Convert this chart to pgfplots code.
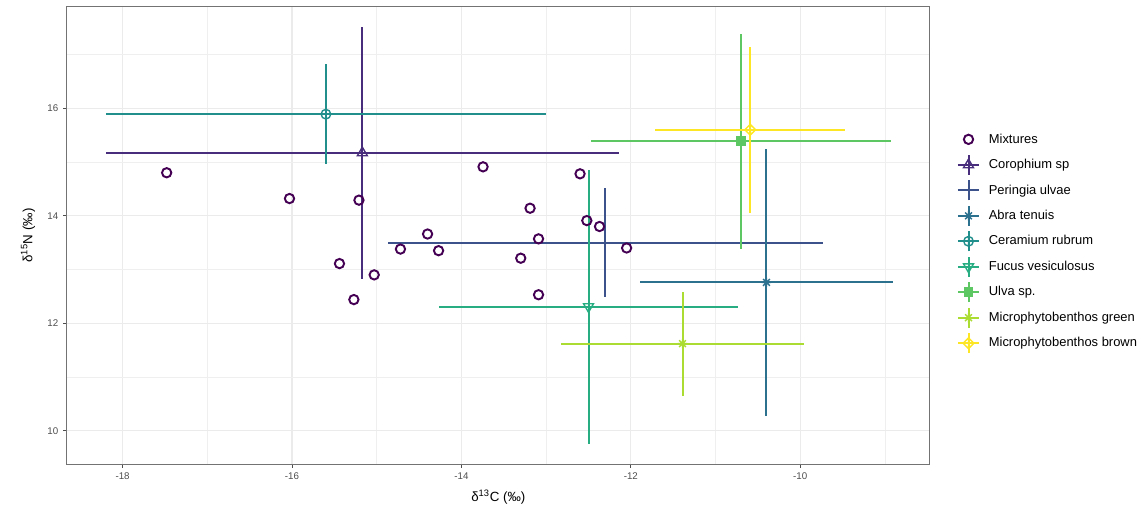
\documentclass[border=0pt]{standalone}
\usepackage{pgfplots}
\pgfplotsset{compat=1.18}
\usepackage{fontspec}
\setmainfont{Liberation Sans}
\usetikzlibrary{plotmarks}
\definecolor{v1}{HTML}{440154}
\definecolor{v2}{HTML}{472D7B}
\definecolor{v3}{HTML}{3B528B}
\definecolor{v4}{HTML}{2C728E}
\definecolor{v5}{HTML}{21908C}
\definecolor{v6}{HTML}{27AD81}
\definecolor{v7}{HTML}{5DC863}
\definecolor{v8}{HTML}{AADC32}
\definecolor{v9}{HTML}{FDE725}
\definecolor{gridc}{HTML}{EBEBEB}
\definecolor{tickc}{HTML}{4D4D4D}
\pgfdeclareplotmark{ast8}{%
  \pgfpathmoveto{\pgfqpoint{-\pgfplotmarksize}{0pt}}\pgfpathlineto{\pgfqpoint{\pgfplotmarksize}{0pt}}%
  \pgfpathmoveto{\pgfqpoint{0pt}{-\pgfplotmarksize}}\pgfpathlineto{\pgfqpoint{0pt}{\pgfplotmarksize}}%
  \pgfpathmoveto{\pgfqpoint{-.7071\pgfplotmarksize}{-.7071\pgfplotmarksize}}\pgfpathlineto{\pgfqpoint{.7071\pgfplotmarksize}{.7071\pgfplotmarksize}}%
  \pgfpathmoveto{\pgfqpoint{-.7071\pgfplotmarksize}{.7071\pgfplotmarksize}}\pgfpathlineto{\pgfqpoint{.7071\pgfplotmarksize}{-.7071\pgfplotmarksize}}%
  \pgfusepathqstroke}
\pgfdeclareplotmark{diamondplus}{%
  \pgfpathmoveto{\pgfqpoint{0pt}{\pgfplotmarksize}}\pgfpathlineto{\pgfqpoint{\pgfplotmarksize}{0pt}}%
  \pgfpathlineto{\pgfqpoint{0pt}{-\pgfplotmarksize}}\pgfpathlineto{\pgfqpoint{-\pgfplotmarksize}{0pt}}\pgfpathclose
  \pgfpathmoveto{\pgfqpoint{-\pgfplotmarksize}{0pt}}\pgfpathlineto{\pgfqpoint{\pgfplotmarksize}{0pt}}%
  \pgfpathmoveto{\pgfqpoint{0pt}{-\pgfplotmarksize}}\pgfpathlineto{\pgfqpoint{0pt}{\pgfplotmarksize}}%
  \pgfusepathqstroke}
\pgfplotsset{
  srckey/.style={legend image code/.code={%
    \draw[#1,line width=1.5pt] (0pt,0pt) -- (16pt,0pt);
    \draw[#1,line width=1.5pt] (8pt,-7.5pt) -- (8pt,7.5pt);
    \draw[##1] plot coordinates {(8pt,0pt)};}},
  mixkey/.style={legend image code/.code={%
    \path[draw=none] (8pt,-8.25pt) -- (8pt,8.25pt);
    \draw[##1] plot coordinates {(8pt,0pt)};}},
  src/.style={color=#1, only marks, mark size=3.6pt, line width=1.05pt, srckey=#1,
    error bars/x dir=both, error bars/x explicit, error bars/y dir=both, error bars/y explicit,
    error bars/error mark=none,
    error bars/error bar style={line width=1.5pt, solid}},
}
\begin{document}
\begin{tikzpicture}
\begin{axis}[
  scale only axis, width=647pt, height=343pt,
  xmin=-18.66, xmax=-8.47, ymin=9.376, ymax=17.89,
  xtick={-18,-16,-14,-12,-10}, ytick={10,12,14,16},
  minor xtick={-17,-15,-13,-11,-9}, minor ytick={11,13,15,17},
  grid=both,
  major grid style={gridc, line width=0.85pt},
  minor grid style={gridc!80!white, line width=0.6pt},
  axis line style={draw={rgb,1:red,0.45;green,0.45;blue,0.45}, line width=0.75pt},
  tick align=outside, tick pos=left,
  major tick length=2.75pt, minor tick length=0pt,
  every tick/.style={draw=tickc, line width=0.6pt},
  /pgf/number format/assume math mode=true,
  ticklabel style={font=\fontsize{7.3}{8}\selectfont, text=tickc},
  xlabel={δ\textsuperscript{13}C (‰)},
  ylabel={δ\textsuperscript{15}N (‰)},
  label style={font=\fontsize{10}{12}\selectfont},
  every axis x label/.style={at={(axis description cs:0.5,-0.072)}, anchor=center},
  every axis y label/.style={at={(axis description cs:-0.0448,0.5)}, rotate=90, anchor=center},
  legend style={draw=none, fill=none, at={(rel axis cs:1,1)}, xshift=20pt, yshift=-91pt,
    anchor=north west, font=\fontsize{9.7}{11.5}\selectfont, row sep=2.6pt, inner sep=0pt,
    /tikz/every odd column/.append style={column sep=4.5pt}},
  legend cell align=left,
]
\addplot[color=v1, only marks, mark=o, mark size=3.5pt, line width=1.45pt, mixkey] coordinates {
(-17.48,14.80) (-16.03,14.32) (-15.21,14.29) (-14.40,13.66) (-14.72,13.38) (-14.27,13.35)
(-13.745,14.91) (-12.60,14.78) (-13.19,14.14) (-12.52,13.91) (-12.37,13.80) (-13.09,13.57)
(-12.05,13.40) (-13.30,13.21) (-13.09,12.53) (-15.44,13.11) (-15.03,12.90) (-15.27,12.44)
};
\addlegendentry{Mixtures}
\addplot[src=v2, mark=triangle, mark size=4.3pt] coordinates {(-15.17,15.17) +- (3.03,2.34)};
\addlegendentry{Corophium sp}
\addplot[src=v3, mark=+, mark size=4pt] coordinates {(-12.30,13.50) +- (2.57,1.01)};
\addlegendentry{Peringia ulvae}
\addplot[src=v4, mark=ast8] coordinates {(-10.40,12.76) +- (1.49,2.48)};
\addlegendentry{Abra tenuis}
\addplot[src=v5, mark=oplus] coordinates {(-15.60,15.89) +- (2.60,0.93)};
\addlegendentry{Ceramium rubrum}
\addplot[src=v6, mark=triangle, mark size=4.3pt, mark options={rotate=180}] coordinates {(-12.50,12.31) +- (1.77,2.55)};
\addlegendentry{Fucus vesiculosus}
\addplot[src=v7, mark=square*, mark size=3.2pt] coordinates {(-10.70,15.39) +- (1.77,2.00)};
\addlegendentry{Ulva sp.}
\addplot[src=v8, mark=ast8] coordinates {(-11.39,11.62) +- (1.43,0.97)};
\addlegendentry{Microphytobenthos green}
\addplot[src=v9, mark=diamondplus, mark size=4pt] coordinates {(-10.59,15.60) +- (1.12,1.54)};
\addlegendentry{Microphytobenthos brown}
\end{axis}
\path (current axis.south west) ++(-50pt,-34.5pt) coordinate (bbsw);
\path (current axis.north east) ++(158.25pt,5pt) coordinate (bbne);
\useasboundingbox (bbsw) rectangle (bbne);
\end{tikzpicture}
\end{document}
